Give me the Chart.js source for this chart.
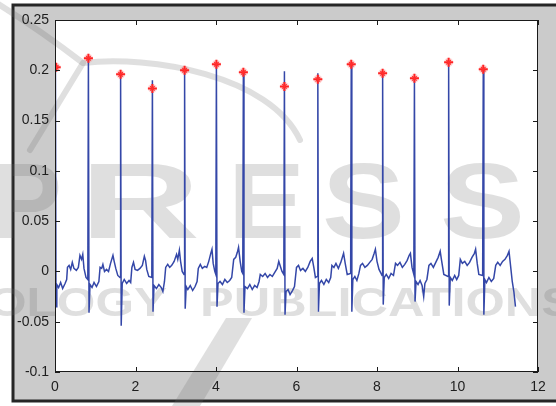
<!DOCTYPE html>
<html>
<head>
<meta charset="utf-8">
<script src="https://cdn.jsdelivr.net/npm/chart.js@4.4.1/dist/chart.umd.min.js"></script>
<style>
  html, body { margin: 0; padding: 0; background: #fff; }
  #wrap { width: 556px; height: 406px; }
</style>
</head>
<body>
<div id="wrap"><canvas id="chart" width="556" height="406"></canvas></div>
<script>
// axis ticks
const xTicks = [0, 2, 4, 6, 8, 10, 12];
const yTicks = [-0.1, -0.05, 0, 0.05, 0.1, 0.15, 0.2, 0.25];

// detected R peaks (red asterisks)
const peakTimes  = [0.03, 0.83, 1.63, 2.42, 3.22, 4.01, 4.68, 5.70, 6.53, 7.36, 8.14, 8.93, 9.78, 10.64];
const peakValues = [0.203, 0.212, 0.196, 0.182, 0.200, 0.206, 0.198, 0.184, 0.191, 0.206, 0.197, 0.192, 0.208, 0.201];

// ECG trace, [time s, amplitude], read beat by beat off the picture
const ecgSignal = [
  [0.00,-0.022],[0.01,0.207],[0.025,-0.035],[0.045,-0.013],[0.09,-0.016],[0.14,-0.011],[0.19,-0.017],[0.25,-0.012],[0.29,-0.008],[0.31,0.004],[0.35,0.006],[0.39,0.002],[0.43,0.009],[0.47,0.003],[0.53,0.001],[0.58,0.004],[0.62,0.016],[0.66,0.012],[0.69,0.017],[0.72,0.003],[0.77,-0.006],[0.815,-0.008],
  [0.83,0.212],[0.845,-0.041],[0.87,-0.013],[0.92,-0.016],[0.97,-0.011],[1.03,-0.015],[1.09,-0.010],[1.12,0.004],[1.16,0.003],[1.19,0.007],[1.23,0.000],[1.28,0.002],[1.33,0.000],[1.38,0.008],[1.44,0.016],[1.47,0.010],[1.51,0.003],[1.56,-0.004],[1.615,-0.006],
  [1.63,0.196],[1.645,-0.054],[1.67,-0.012],[1.72,-0.008],[1.78,-0.012],[1.84,-0.009],[1.88,-0.011],[1.91,0.004],[1.95,0.009],[1.99,0.002],[2.05,0.001],[2.11,0.003],[2.17,0.006],[2.22,0.015],[2.25,0.011],[2.28,0.002],[2.33,-0.005],[2.405,-0.006],
  [2.42,0.190],[2.435,-0.040],[2.46,-0.014],[2.52,-0.017],[2.58,-0.013],[2.64,-0.016],[2.68,-0.020],[2.72,-0.010],[2.75,0.004],[2.80,0.007],[2.85,0.004],[2.90,0.006],[2.96,0.010],[3.02,0.017],[3.05,0.012],[3.09,0.021],[3.12,0.010],[3.16,0.000],[3.205,-0.003],
  [3.22,0.200],[3.235,-0.037],[3.26,-0.015],[3.30,-0.018],[3.36,-0.014],[3.42,-0.019],[3.48,-0.015],[3.53,-0.010],[3.56,0.003],[3.61,0.007],[3.66,0.003],[3.72,0.005],[3.77,0.004],[3.82,0.010],[3.87,0.018],[3.90,0.022],[3.93,0.008],[3.97,0.000],[3.995,-0.003],
  [4.01,0.206],[4.025,-0.035],[4.05,-0.012],[4.10,-0.010],[4.16,-0.013],[4.22,-0.008],[4.28,-0.011],[4.34,-0.009],[4.39,-0.006],[4.44,0.012],[4.49,0.014],[4.53,0.019],[4.56,0.024],[4.60,0.010],[4.64,0.000],[4.665,-0.002],
  [4.68,0.198],[4.695,-0.041],[4.72,-0.015],[4.78,-0.017],[4.84,-0.013],[4.90,-0.018],[4.96,-0.014],[5.02,-0.016],[5.07,-0.010],[5.10,-0.003],[5.16,-0.005],[5.22,-0.002],[5.28,-0.006],[5.34,-0.003],[5.40,-0.005],[5.46,-0.001],[5.52,0.003],[5.56,0.010],[5.60,0.005],[5.64,0.000],[5.685,-0.003],
  [5.70,0.199],[5.715,-0.043],[5.74,-0.020],[5.79,-0.018],[5.84,-0.023],[5.90,-0.019],[5.95,-0.015],[6.00,0.004],[6.05,0.006],[6.10,0.001],[6.16,0.003],[6.22,0.000],[6.28,0.004],[6.34,0.010],[6.39,0.013],[6.43,0.004],[6.47,-0.006],[6.515,-0.005],
  [6.53,0.197],[6.545,-0.040],[6.57,-0.012],[6.62,-0.009],[6.68,-0.013],[6.74,-0.008],[6.80,-0.011],[6.85,-0.006],[6.88,0.006],[6.93,0.004],[6.98,0.008],[7.04,0.003],[7.10,0.009],[7.14,0.014],[7.17,0.018],[7.21,0.008],[7.26,-0.003],[7.345,-0.002],
  [7.36,0.206],[7.375,-0.040],[7.40,-0.008],[7.45,-0.005],[7.50,-0.009],[7.55,-0.002],[7.59,0.006],[7.64,0.008],[7.70,0.004],[7.76,0.006],[7.82,0.009],[7.88,0.012],[7.93,0.018],[7.96,0.022],[8.00,0.010],[8.05,0.002],[8.10,-0.002],[8.125,-0.004],
  [8.14,0.197],[8.155,-0.033],[8.18,-0.006],[8.23,-0.003],[8.29,-0.007],[8.35,-0.002],[8.41,-0.004],[8.46,0.008],[8.51,0.006],[8.57,0.009],[8.63,0.004],[8.69,0.007],[8.75,0.011],[8.80,0.016],[8.83,0.018],[8.87,0.004],[8.915,-0.003],
  [8.93,0.192],[8.945,-0.030],[8.97,-0.010],[9.02,-0.013],[9.07,-0.009],[9.12,-0.014],[9.16,-0.025],[9.19,-0.012],[9.24,-0.008],[9.29,0.006],[9.34,0.008],[9.40,0.004],[9.46,0.009],[9.52,0.014],[9.57,0.020],[9.60,0.012],[9.66,-0.003],[9.765,-0.005],
  [9.78,0.208],[9.795,-0.034],[9.82,-0.006],[9.87,-0.009],[9.93,-0.004],[9.98,-0.008],[10.03,-0.004],[10.07,0.012],[10.12,0.008],[10.18,0.010],[10.24,0.006],[10.30,0.009],[10.36,0.014],[10.42,0.018],[10.45,0.022],[10.49,0.008],[10.53,-0.003],[10.625,-0.004],
  [10.64,0.201],[10.655,-0.043],[10.68,-0.008],[10.72,-0.011],[10.78,-0.006],[10.84,-0.010],[10.90,-0.007],[10.95,0.006],[11.00,0.009],[11.06,0.006],[11.12,0.010],[11.18,0.012],[11.24,0.016],[11.28,0.020],[11.32,0.005],[11.36,-0.010],[11.40,-0.020],[11.44,-0.035]
];

const tickFont = { family: '"Liberation Sans", Arial, sans-serif', size: 14 };

function stretchText(ctx, text, x0, x1, baseline, font) {
  ctx.save();
  ctx.font = font;
  const w = ctx.measureText(text).width;
  ctx.translate(x0, baseline);
  ctx.scale((x1 - x0) / w, 1);
  ctx.fillText(text, 0, 0);
  ctx.restore();
}

// gray MATLAB figure, frame, white axes and the faint publisher watermark
const figurePlugin = {
  id: 'figure',
  beforeDraw(chart) {
    const ctx = chart.ctx;
    const a = chart.chartArea;
    ctx.save();
    ctx.fillStyle = '#ffffff';
    ctx.fillRect(0, 0, chart.width, chart.height);
    ctx.fillStyle = '#cbcbcb';
    ctx.fillRect(13, 5, chart.width, 396);
    ctx.strokeStyle = '#262626';
    ctx.lineWidth = 3;
    ctx.beginPath();
    ctx.moveTo(chart.width + 5, 5);
    ctx.lineTo(13, 5);
    ctx.lineTo(13, 401);
    ctx.lineTo(chart.width + 5, 401);
    ctx.stroke();
    ctx.fillStyle = '#ffffff';
    ctx.fillRect(a.left, a.top, a.right - a.left, a.bottom - a.top);

    // watermark
    ctx.fillStyle = 'rgba(110,110,110,0.22)';
    ctx.strokeStyle = 'rgba(110,110,110,0.22)';
    const big = 'bold 108px "Liberation Sans", Arial, sans-serif';
    stretchText(ctx, 'P', -10, 62, 238, big);
    stretchText(ctx, 'R', 80, 200, 238, big);
    stretchText(ctx, 'E', 228, 305, 238, big);
    stretchText(ctx, 'S', 322, 405, 238, big);
    stretchText(ctx, 'S', 440, 525, 238, big);
    const small = 'bold 40px "Liberation Sans", Arial, sans-serif';
    stretchText(ctx, 'OLOGY', -12, 167, 316, small);
    stretchText(ctx, 'PUBLICATIONS', 200, 575, 316, small);
    ctx.lineWidth = 6;
    ctx.lineCap = 'round';
    ctx.beginPath();
    ctx.moveTo(-5, 2);
    ctx.quadraticCurveTo(40, 30, 83, 63);
    ctx.bezierCurveTo(150, 55, 270, 75, 300, 140);
    ctx.stroke();
    ctx.beginPath();
    ctx.moveTo(83, 63);
    ctx.lineTo(30, 150);
    ctx.stroke();
    ctx.beginPath();
    ctx.moveTo(226, 318);
    ctx.lineTo(252, 318);
    ctx.lineTo(200, 406);
    ctx.lineTo(172, 406);
    ctx.closePath();
    ctx.fill();
    ctx.restore();
  },
  afterDatasetsDraw(chart) {
    const ctx = chart.ctx;
    const a = chart.chartArea;
    const xs = chart.scales.x, ys = chart.scales.y;
    ctx.save();
    ctx.strokeStyle = '#1a1a1a';
    ctx.lineWidth = 1;
    ctx.strokeRect(a.left + 0.5, a.top + 0.5, a.right - a.left - 1, a.bottom - a.top - 1);
    ctx.beginPath();
    xTicks.forEach(v => {
      const px = Math.round(xs.getPixelForValue(v)) + 0.5;
      ctx.moveTo(px, a.bottom); ctx.lineTo(px, a.bottom - 5);
      ctx.moveTo(px, a.top); ctx.lineTo(px, a.top + 5);
    });
    yTicks.forEach(v => {
      const py = Math.round(ys.getPixelForValue(v)) + 0.5;
      ctx.moveTo(a.left, py); ctx.lineTo(a.left + 5, py);
      ctx.moveTo(a.right, py); ctx.lineTo(a.right - 5, py);
    });
    ctx.stroke();
    ctx.restore();
  }
};

const ecgPoints = ecgSignal.map(p => ({ x: p[0], y: p[1] }));
const peakPoints = peakTimes.map((t, i) => ({ x: t, y: peakValues[i] }));

new Chart(document.getElementById('chart'), {
  type: 'scatter',
  data: {
    datasets: [
      {
        data: peakPoints,
        showLine: false,
        pointStyle: 'crossRot',
        pointRadius: 3.2,
        pointBorderWidth: 1.2,
        pointBorderColor: '#ff3030',
        order: 0
      },
      {
        data: peakPoints,
        showLine: false,
        pointStyle: 'cross',
        pointRadius: 4.5,
        pointBorderWidth: 2,
        pointBorderColor: '#ff2424',
        order: 1
      },
      {
        data: peakPoints,
        showLine: false,
        pointStyle: 'circle',
        pointRadius: 4.5,
        pointBorderWidth: 0,
        pointBackgroundColor: 'rgba(255,130,130,0.3)',
        order: 2
      },
      {
        data: ecgPoints,
        showLine: true,
        borderColor: '#3447a8',
        borderWidth: 1.5,
        pointRadius: 0,
        tension: 0,
        order: 3
      }
    ]
  },
  options: {
    responsive: false,
    animation: false,
    devicePixelRatio: 1,
    layout: { padding: { top: 20, right: 18, left: 0, bottom: 0 } },
    plugins: { legend: { display: false }, tooltip: { enabled: false } },
    scales: {
      x: {
        type: 'linear',
        min: 0,
        max: 12,
        afterBuildTicks: s => { s.ticks = xTicks.map(v => ({ value: v })); },
        afterFit: s => { s.height = 34; },
        grid: { display: false, drawTicks: false },
        border: { display: false },
        ticks: { padding: 7, font: tickFont, color: '#1e1e1e', maxRotation: 0 }
      },
      y: {
        type: 'linear',
        min: -0.1,
        max: 0.25,
        afterBuildTicks: s => { s.ticks = yTicks.map(v => ({ value: v })); },
        afterFit: s => { s.width = 55; },
        grid: { display: false, drawTicks: false },
        border: { display: false },
        ticks: {
          padding: 6,
          font: tickFont,
          color: '#1e1e1e',
          callback: v => String(Number(v.toFixed(2)))
        }
      }
    }
  },
  plugins: [figurePlugin]
});
</script>
</body>
</html>
